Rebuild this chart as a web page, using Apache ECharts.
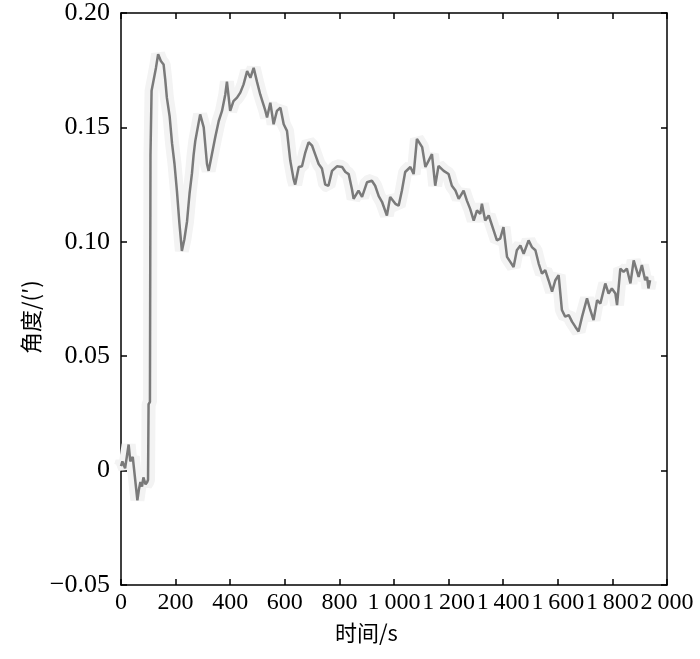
<!DOCTYPE html>
<html>
<head>
<meta charset="utf-8">
<script src="https://cdn.jsdelivr.net/npm/echarts@6/dist/echarts.min.js"></script>
<style>
  html, body { margin: 0; padding: 0; background: #fff; }
  #chart { width: 700px; height: 659px; }
</style>
</head>
<body>
<div id="chart"></div>
<script>
// time (s) and angle (′)
const times = [
  0, 5, 15, 28, 34, 43, 52, 60, 66, 71, 77, 82, 90, 96, 99, 101, 106, 108, 112, 119,
  128, 136, 146, 156, 162, 168, 178, 187, 196, 205, 214, 223, 232, 242, 251, 260, 266,
  272, 290, 303, 315, 321, 333, 345, 358, 370, 382, 388, 400, 412, 425, 437, 449, 462, 474,
  486, 498, 510, 529, 535, 547, 559, 571, 584, 596, 608, 620,
  632, 638, 651, 663, 675, 687, 700, 712, 724, 736, 748, 760, 773, 791, 810, 822, 834, 846,
  852, 870, 883, 901, 919, 931, 944, 956, 974, 986, 1005, 1017, 1029, 1041, 1060, 1072, 1084,
  1103, 1115, 1127, 1139, 1151, 1163, 1182, 1200, 1212, 1225, 1237,
  1243, 1255, 1267, 1279, 1292, 1304, 1316, 1322, 1334, 1347, 1365, 1377, 1389, 1401, 1414,
  1426, 1438, 1450, 1463, 1475, 1493, 1505, 1518, 1530, 1542, 1554, 1566, 1579, 1591, 1603,
  1615, 1627, 1640, 1652, 1664, 1676, 1689, 1707, 1719, 1731, 1744, 1756, 1774, 1786, 1798,
  1811, 1817, 1829, 1841, 1853, 1866, 1878, 1884, 1896, 1908, 1920, 1927, 1932, 1938
];
const angles = [
  0.002, 0.004, 0.001, 0.0114, 0.004, 0.006, -0.004, -0.013, -0.008, -0.005, -0.007, -0.003, -0.006, -0.005, -0.004, 0.029, 0.030, 0.138, 0.166, 0.166,
  0.176, 0.182, 0.179, 0.1775, 0.171, 0.163, 0.155, 0.143, 0.134, 0.122, 0.108, 0.096, 0.101, 0.109, 0.121, 0.130, 0.138,
  0.144, 0.1557, 0.150, 0.134, 0.131, 0.1383, 0.1456, 0.1528, 0.1572, 0.1644, 0.170, 0.1572, 0.1615, 0.163, 0.1652, 0.1688, 0.1746, 0.1717,
  0.176, 0.170, 0.1644, 0.1572, 0.1543, 0.1608, 0.1514, 0.1572, 0.1586, 0.1514, 0.1485, 0.1355,
  0.1275, 0.125, 0.1327, 0.133, 0.139, 0.1435, 0.142, 0.138, 0.134, 0.132, 0.125, 0.1245, 0.131, 0.133, 0.1327, 0.1305, 0.1296, 0.123,
  0.1188, 0.1224, 0.1196, 0.126, 0.1267, 0.1245, 0.120, 0.1175, 0.1115, 0.1196, 0.1166, 0.1158, 0.1224, 0.1305, 0.1327, 0.1296, 0.145,
  0.1414, 0.1327, 0.1355, 0.1383, 0.1245, 0.1332, 0.131, 0.1296, 0.1245, 0.1224, 0.1188,
  0.1195, 0.1224, 0.118, 0.1144, 0.1093, 0.1137, 0.1122, 0.1166, 0.1093, 0.1115, 0.105, 0.1006, 0.1014, 0.1064, 0.0934,
  0.0912, 0.089, 0.0963, 0.0984, 0.0948, 0.1006, 0.0977, 0.0963, 0.0905, 0.0861, 0.0876, 0.0832, 0.0782, 0.0832, 0.0854,
  0.0702, 0.0673, 0.068, 0.0651, 0.0629, 0.0608, 0.0673, 0.0753, 0.0702, 0.0658, 0.0745, 0.073, 0.0818, 0.0774, 0.0796,
  0.0774, 0.0723, 0.0883, 0.0869, 0.0883, 0.0818, 0.0919, 0.0927, 0.0847, 0.0898, 0.0832, 0.0847, 0.0796, 0.0832
];
const xTicks = [0, 200, 400, 600, 800, 1000, 1200, 1400, 1600, 1800, 2000];
const yTicks = [-0.05, 0, 0.05, 0.10, 0.15, 0.20];

const points = times.map((t, i) => [t, angles[i]]);

const serif = '"Liberation Serif", "Times New Roman", serif';
const cjk = '"Noto Sans CJK SC", sans-serif';

const fmtX = v => {
  const s = String(Math.round(v));
  return s.length > 3 ? s.slice(0, s.length - 3) + '\u2009' + s.slice(-3) : s;
};
const fmtY = v => {
  if (Math.abs(v) < 1e-9) return '0';
  const s = Math.abs(v).toFixed(2);
  return v < 0 ? '\u2212' + s : s;
};

const axisLine = { show: true, onZero: false, lineStyle: { color: '#000', width: 1.5 } };
const tick = { show: true, inside: true, length: 6, lineStyle: { color: '#000', width: 1.5 } };

const myChart = echarts.init(document.getElementById('chart'), null, { renderer: 'canvas' });

const option = {
  animation: false,
  backgroundColor: '#fff',
  grid: { left: 121, top: 10, right: 33, bottom: 74, containLabel: false },
  xAxis: [
    {
      type: 'value',
      min: xTicks[0], max: xTicks[xTicks.length - 1], interval: 200,
      axisLine: axisLine,
      axisTick: tick,
      splitLine: { show: false },
      axisLabel: {
        formatter: fmtX, color: '#000', fontFamily: serif, fontSize: 24, margin: 6
      }
    },
    {
      type: 'value', position: 'top',
      min: xTicks[0], max: xTicks[xTicks.length - 1], interval: 200,
      axisLine: axisLine, axisTick: tick,
      splitLine: { show: false }, axisLabel: { show: false }
    }
  ],
  yAxis: [
    {
      type: 'value',
      min: yTicks[0], max: yTicks[yTicks.length - 1], interval: 0.05,
      axisLine: axisLine,
      axisTick: tick,
      splitLine: { show: false },
      axisLabel: {
        formatter: fmtY, color: '#000', fontFamily: serif, fontSize: 26, margin: 11
      }
    },
    {
      type: 'value', position: 'right',
      min: yTicks[0], max: yTicks[yTicks.length - 1], interval: 0.05,
      axisLine: axisLine, axisTick: tick,
      splitLine: { show: false }, axisLabel: { show: false }
    }
  ],
  graphic: [
    {
      type: 'text', left: 335, top: 622,
      style: { text: '时间/s', font: '22px ' + cjk, fill: '#000' }
    },
    {
      type: 'text', x: 20, y: 354, rotation: Math.PI / 2,
      style: { text: '角度/(′)', font: '22px ' + cjk, fill: '#000' }
    }
  ],
  series: [
    {
      name: 'halo',
      type: 'line',
      data: points,
      showSymbol: false,
      silent: true,
      lineStyle: { color: '#f3f3f3', width: 14 },
      z: 1
    },
    {
      name: '角度',
      type: 'line',
      data: points,
      showSymbol: false,
      lineStyle: { color: '#7a7a7a', width: 2.5 },
      z: 2
    }
  ]
};

myChart.setOption(option);
</script>
</body>
</html>
